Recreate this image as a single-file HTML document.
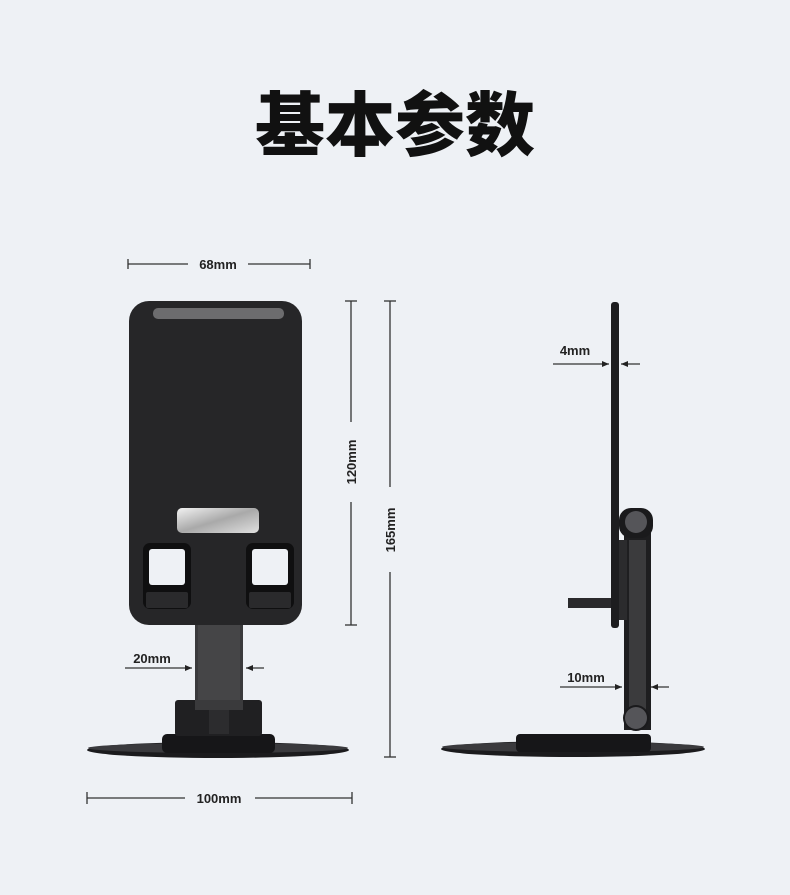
<!DOCTYPE html>
<html><head><meta charset="utf-8"><style>
html,body{margin:0;padding:0;background:#eef1f5;}
svg{display:block;}
text{font-family:"Liberation Sans","Noto Sans CJK SC",sans-serif;}
</style></head><body>
<svg width="790" height="895" viewBox="0 0 790 895" xmlns="http://www.w3.org/2000/svg">
<defs>
<linearGradient id="metal" x1="0" y1="0" x2="1" y2="1">
<stop offset="0" stop-color="#f2f2f2"/><stop offset="0.5" stop-color="#a9a9a9"/><stop offset="1" stop-color="#e0e0e0"/>
</linearGradient>
<marker id="ar" markerWidth="8" markerHeight="8" refX="7" refY="4" orient="auto" markerUnits="userSpaceOnUse">
<path d="M0,1 L7,4 L0,7 Z" fill="#222"/></marker>
</defs>
<rect width="790" height="895" fill="#eef1f5"/>
<text x="395" y="150" font-size="70" font-weight="bold" text-anchor="middle" fill="#111" style="font-family:'Noto Sans CJK SC',sans-serif;font-weight:900">基本参数</text>

<!-- dimension lines, front -->
<g stroke="#333" stroke-width="1.3" fill="none">
<line x1="128" y1="264" x2="188" y2="264"/><line x1="248" y1="264" x2="310" y2="264"/>
<line x1="128" y1="259" x2="128" y2="269"/><line x1="310" y1="259" x2="310" y2="269"/>
<line x1="351" y1="301" x2="351" y2="422"/><line x1="351" y1="502" x2="351" y2="625"/>
<line x1="345" y1="301" x2="357" y2="301"/><line x1="345" y1="625" x2="357" y2="625"/>
<line x1="390" y1="301" x2="390" y2="487"/><line x1="390" y1="572" x2="390" y2="757"/>
<line x1="384" y1="301" x2="396" y2="301"/><line x1="384" y1="757" x2="396" y2="757"/>
<line x1="87" y1="798" x2="185" y2="798"/><line x1="255" y1="798" x2="352" y2="798"/>
<line x1="87" y1="792" x2="87" y2="804"/><line x1="352" y1="792" x2="352" y2="804"/>
<line x1="125" y1="668" x2="192" y2="668" marker-end="url(#ar)"/>
<line x1="264" y1="668" x2="246" y2="668" marker-end="url(#ar)"/>
<line x1="553" y1="364" x2="609" y2="364" marker-end="url(#ar)"/>
<line x1="640" y1="364" x2="621" y2="364" marker-end="url(#ar)"/>
<line x1="560" y1="687" x2="622" y2="687" marker-end="url(#ar)"/>
<line x1="669" y1="687" x2="651" y2="687" marker-end="url(#ar)"/>
</g>
<g font-size="13" font-weight="bold" fill="#222">
<text x="218" y="269" text-anchor="middle">68mm</text>
<text x="219" y="803" text-anchor="middle">100mm</text>
<text x="152" y="663" text-anchor="middle">20mm</text>
<text x="575" y="355" text-anchor="middle">4mm</text>
<text x="586" y="682" text-anchor="middle">10mm</text>
<text transform="translate(356,462) rotate(-90)" text-anchor="middle">120mm</text>
<text transform="translate(395,530) rotate(-90)" text-anchor="middle">165mm</text>
</g>

<!-- front view -->
<ellipse cx="218" cy="750" rx="131" ry="8" fill="#1b1b1d"/>
<ellipse cx="218" cy="748" rx="130" ry="5" fill="#3a3a3d"/>
<rect x="162" y="734" width="113" height="19" rx="5" fill="#161618"/>
<rect x="175" y="700" width="87" height="36" rx="3" fill="#202022"/>
<rect x="209" y="702" width="20" height="32" fill="#2c2c2e"/>
<rect x="195" y="620" width="48" height="90" fill="#3a3a3c"/>
<rect x="198" y="620" width="42" height="80" fill="#454547"/>
<rect x="129" y="301" width="173" height="324" rx="20" fill="#262628"/>
<rect x="153" y="308" width="131" height="11" rx="5" fill="#6c6c6e"/>
<rect x="177" y="508" width="82" height="25" rx="5" fill="url(#metal)"/>
<rect x="143" y="543" width="48" height="66" rx="7" fill="#0f0f10"/>
<rect x="149" y="549" width="36" height="36" rx="3" fill="#eef1f5"/>
<rect x="146" y="592" width="42" height="16" rx="2" fill="#2a2a2c"/>
<rect x="246" y="543" width="48" height="66" rx="7" fill="#0f0f10"/>
<rect x="252" y="549" width="36" height="36" rx="3" fill="#eef1f5"/>
<rect x="249" y="592" width="42" height="16" rx="2" fill="#2a2a2c"/>

<!-- side view -->
<ellipse cx="573" cy="749" rx="132" ry="8" fill="#1b1b1d"/>
<ellipse cx="573" cy="747" rx="131" ry="5" fill="#3a3a3d"/>
<rect x="516" y="734" width="135" height="18" rx="4" fill="#161618"/>
<rect x="624" y="530" width="27" height="200" fill="#1e1e20"/>
<rect x="629" y="540" width="17" height="175" fill="#3b3b3d"/>
<rect x="619" y="508" width="34" height="30" rx="12" fill="#1a1a1c"/>
<circle cx="636" cy="522" r="11" fill="#555559"/>
<circle cx="636" cy="718" r="13" fill="#1a1a1c"/>
<circle cx="636" cy="718" r="11" fill="#555559"/>
<rect x="568" y="598" width="52" height="10" fill="#2a2a2c"/>
<rect x="611" y="302" width="8" height="326" rx="3" fill="#1d1d1f"/>
<rect x="619" y="540" width="8" height="80" fill="#2b2b2d"/>
</svg>
</body></html>
